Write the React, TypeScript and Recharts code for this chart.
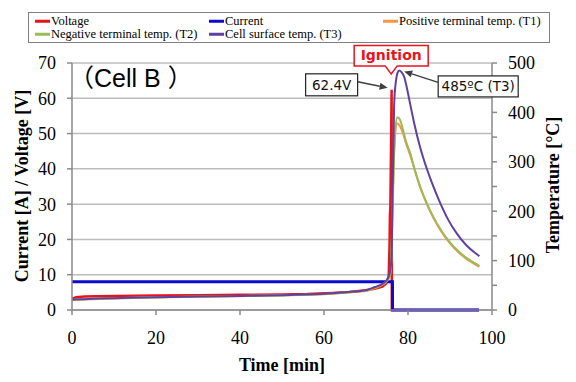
import React from 'react';
import { LineChart, Line, XAxis, YAxis, CartesianGrid, ReferenceDot } from 'recharts';

// [time (min), value]
const VOLTAGE: [number, number][] = [
  [0, 3.2], [1, 3.6], [3, 3.8], [6, 3.9], [10, 4.0], [20, 4.1], [30, 4.2], [40, 4.3],
  [50, 4.4], [56, 4.5], [62, 4.8], [66, 5.1], [70, 5.6], [72, 6.0], [73.9, 6.6], [74.8, 7.5],
  [75.4, 9.5], [75.6, 18], [75.7, 27], [75.8, 29], [75.95, 45], [76.1, 62.4], [76.15, 0], [96.9, 0],
];

const CURRENT: [number, number][] = [
  [0, 8], [76.3, 8], [76.32, 0], [96.9, 0],
];

// temperatures in degC
const T1_POS: [number, number][] = [
  [0, 20], [2, 21], [5, 22], [10, 23.5], [20, 25.5], [30, 27], [40, 28], [52, 30], [60, 32],
  [65, 35], [70.2, 39], [72, 44], [74.1, 52], [75.2, 61], [75.7, 68], [76.0, 95], [76.3, 190],
  [76.6, 290], [76.9, 350], [77.3, 378], [78.1, 372], [78.8, 358], [79.5, 338], [80.5, 314],
  [81.7, 280], [82.9, 248], [84.4, 216], [86.0, 187], [88, 158], [90, 135], [92, 117],
  [94, 103], [96.7, 89], [97, 87.5],
];

const T2_NEG: [number, number][] = [
  [0, 20.5], [2, 21.5], [5, 22.5], [10, 24], [20, 26], [30, 27.5], [40, 28.5], [52, 30.2],
  [60, 32.5], [65, 35.5], [70.2, 40], [72, 45], [74.1, 53], [75.2, 62], [75.7, 72], [76.0, 100],
  [76.3, 200], [76.6, 300], [76.9, 360], [77.5, 390], [78.1, 385], [78.8, 365], [79.5, 342],
  [80.5, 318], [81.7, 282], [82.9, 250], [84.4, 218], [86.0, 189], [88, 160], [90, 137],
  [92, 119], [94, 105], [96.7, 91], [97, 89.5],
];

const T3_SURF: [number, number][] = [
  [0, 21], [2, 22], [5, 23], [10, 24], [20, 26], [30, 27.5], [40, 28.5], [52, 30.4], [60, 33],
  [65, 36], [70.2, 40.5], [72, 46], [74.1, 54], [75.2, 64], [75.7, 77], [76.1, 110], [76.3, 230],
  [76.5, 314], [76.7, 415], [77.1, 462], [77.5, 480], [77.9, 485], [78.4, 482], [79.0, 474],
  [79.6, 455], [80.3, 426], [80.9, 401], [81.5, 377], [82.8, 332], [84.0, 298], [85.5, 262],
  [87.6, 218], [89.5, 184], [91.6, 155], [94, 130], [96.7, 111], [97, 109],
];

const X_TICKS = [0, 20, 40, 60, 80, 100];
const LEFT_TICKS = [0, 10, 20, 30, 40, 50, 60, 70];
const RIGHT_TICKS = [0, 50, 100, 150, 200, 250, 300, 350, 400, 450, 500];

const SERIES = [
  { name: 'Voltage', data: VOLTAGE, axis: 'left', color: '#e8141c', width: 2.5, type: 'linear' },
  { name: 'Current', data: CURRENT, axis: 'left', color: '#0a0ad0', width: 3, type: 'linear' },
  { name: 'Positive terminal temp. (T1)', data: T1_POS, axis: 'right', color: '#f79646', width: 2, type: 'monotone' },
  { name: 'Negative terminal temp. (T2)', data: T2_NEG, axis: 'right', color: '#9bbb59', width: 2, type: 'monotone' },
  { name: 'Cell surface temp. (T3)', data: T3_SURF, axis: 'right', color: '#6040a0', width: 2, type: 'monotone' },
];

const toPts = (arr: [number, number][]) => arr.map(([t, v]) => ({ t, v }));

const serif = '"Liberation Serif", "Times New Roman", serif';
const sans = '"DejaVu Sans", "Noto Sans", sans-serif';

function Arrow({ x1, y1, x2, y2 }: { x1: number; y1: number; x2: number; y2: number }) {
  const a = Math.atan2(y2 - y1, x2 - x1);
  const L = 8, W = 3.5;
  const bx = x2 - L * Math.cos(a), by = y2 - L * Math.sin(a);
  const px = -Math.sin(a) * W, py = Math.cos(a) * W;
  return (
    <g>
      <line x1={x1} y1={y1} x2={bx} y2={by} stroke="#404040" strokeWidth={1.5} />
      <polygon points={`${x2},${y2} ${bx + px},${by + py} ${bx - px},${by - py}`} fill="#404040" />
    </g>
  );
}

// annotation around the voltage peak
const VoltNote = (p: any) => {
  const { cx, cy } = p;
  return (
    <g>
      <Arrow x1={cx - 34} y1={cy - 8} x2={cx - 4} y2={cy - 2} />
      <rect x={cx - 86} y={cy - 16} width={52} height={22} fill="#fff" stroke="#222" strokeWidth={1.2} />
      <text x={cx - 60} y={cy} textAnchor="middle" fontFamily={sans} fontSize={13.5} fill="#111">62.4V</text>
    </g>
  );
};

// Ignition callout + T3 peak label
const PeakNote = (p: any) => {
  const { cx, cy } = p;
  const l = cx - 45, r = cx + 29, t = cy - 25, b = cy - 4.5;
  const path = `M${l},${t} H${r} V${b} H${cx - 2} L${cx - 8},${cy + 3.5} L${cx - 14},${b} H${l} Z`;
  return (
    <g>
      <path d={path} fill="#fff" stroke="#e8141c" strokeWidth={1.5} />
      <text x={cx - 8} y={cy - 10} textAnchor="middle" fontFamily={sans} fontWeight="bold" fontSize={14} fill="#e8141c">Ignition</text>
      <Arrow x1={cx + 39} y1={cy + 12} x2={cx + 5} y2={cy + 1} />
      <rect x={cx + 39} y={cy + 5.5} width={80} height={21} fill="#fff" stroke="#222" strokeWidth={1.2} />
      <text x={cx + 79} y={cy + 21} textAnchor="middle" fontFamily={sans} fontSize={13.5} fill="#111">485ºC (T3)</text>
    </g>
  );
};

const LEGEND_POS = [
  { left: 35, top: 21 },
  { left: 209, top: 21 },
  { left: 383, top: 21 },
  { left: 35, top: 34 },
  { left: 209, top: 34 },
];

export default function App() {
  const tick = { fontFamily: serif, fontSize: 18, fill: '#000' };
  return (
    <div style={{ position: 'absolute', left: 0, top: 0, width: 576, height: 382, background: '#fff' }}>
      <LineChart width={576} height={382} margin={{ top: 63, right: 0, bottom: 0, left: 0 }}>
        <CartesianGrid yAxisId="left" horizontal vertical={false} stroke="#bdbdbd" strokeWidth={1.5} />
        <XAxis
          type="number"
          dataKey="t"
          domain={[0, 100]}
          ticks={X_TICKS}
          height={72}
          tick={tick}
          tickSize={5}
          tickMargin={16}
          stroke="#8a8a8a"
          strokeWidth={1.5}
        />
        <YAxis
          yAxisId="left"
          domain={[0, 70]}
          ticks={LEFT_TICKS}
          width={72}
          tick={tick}
          tickSize={5}
          tickMargin={11}
          stroke="#8a8a8a"
          strokeWidth={1.5}
        />
        <YAxis
          yAxisId="right"
          orientation="right"
          domain={[0, 500]}
          ticks={RIGHT_TICKS}
          tickFormatter={(v: number) => (v % 100 === 0 ? String(v) : '')}
          width={84}
          tick={tick}
          tickSize={5}
          tickMargin={11}
          stroke="#8a8a8a"
          strokeWidth={1.5}
        />
        {SERIES.map((s) => (
          <Line
            key={s.name}
            name={s.name}
            yAxisId={s.axis}
            data={toPts(s.data)}
            dataKey="v"
            type={s.type as any}
            stroke={s.color}
            strokeWidth={s.width}
            dot={false}
            activeDot={false}
            isAnimationActive={false}
          />
        ))}
        <ReferenceDot yAxisId="left" x={76.1} y={62.4} r={0} shape={VoltNote} />
        <ReferenceDot yAxisId="right" x={77.9} y={485} r={0} shape={PeakNote} />
      </LineChart>

      {/* legend */}
      <div style={{ position: 'absolute', left: 28, top: 12, width: 520, height: 29, border: '1px solid #7f7f7f', background: '#fff' }} />
      {SERIES.map((s, i) => (
        <div
          key={s.name}
          style={{
            position: 'absolute',
            left: LEGEND_POS[i].left,
            top: LEGEND_POS[i].top,
            transform: 'translateY(-50%)',
            display: 'flex',
            alignItems: 'center',
            fontFamily: serif,
            fontSize: 12.5,
            whiteSpace: 'nowrap',
            lineHeight: 1,
          }}
        >
          <span style={{ display: 'inline-block', width: 15, height: 2.5, background: s.color, marginRight: 1 }} />
          {s.name}
        </div>
      ))}

      <div style={{ position: 'absolute', left: 69, top: 66, fontFamily: '"Liberation Sans", "Noto Sans CJK JP", sans-serif', fontSize: 25, lineHeight: 1, whiteSpace: 'nowrap' }}>
        （Cell B ）
      </div>

      <div style={{ position: 'absolute', left: 282, top: 365, transform: 'translate(-50%, -50%)', fontFamily: serif, fontWeight: 'bold', fontSize: 18, whiteSpace: 'nowrap' }}>
        Time [min]
      </div>
      <div style={{ position: 'absolute', left: 22, top: 186, transform: 'translate(-50%, -50%) rotate(-90deg)', fontFamily: serif, fontWeight: 'bold', fontSize: 18, whiteSpace: 'nowrap' }}>
        Current [A] / Voltage [V]
      </div>
      <div style={{ position: 'absolute', left: 553, top: 185, transform: 'translate(-50%, -50%) rotate(-90deg)', fontFamily: serif, fontWeight: 'bold', fontSize: 18, whiteSpace: 'nowrap' }}>
        Temperature [°C]
      </div>
    </div>
  );
}
